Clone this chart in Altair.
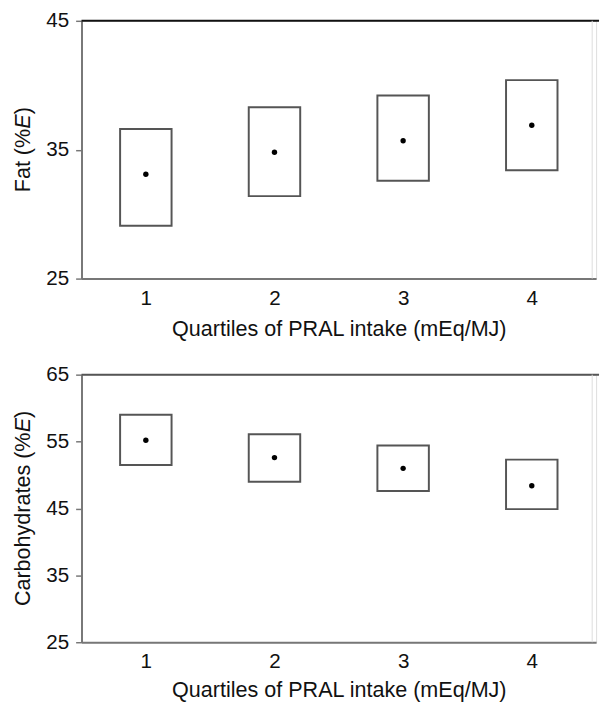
import altair as alt
import pandas as pd

quartiles = [1, 2, 3, 4]
fat_low = [29.1, 31.4, 32.6, 33.4]
fat_high = [36.6, 38.3, 39.2, 40.4]
fat_mean = [33.1, 34.8, 35.7, 36.9]
carb_low = [51.5, 49.0, 47.6, 44.9]
carb_high = [59.0, 56.1, 54.4, 52.3]
carb_mean = [55.2, 52.6, 51.0, 48.4]
fat_ticks = [25, 35, 45]
carb_ticks = [25, 35, 45, 55, 65]
x_ticks = [1, 2, 3, 4]
x_title = "Quartiles of PRAL intake (mEq/MJ)"

W = 525
FONT = "Liberation Sans"
LABEL_SIZE = 21
TITLE_SIZE = 22
AXIS_COLOR = "#777777"


def panel(low, high, mean, ydom, yticks, H, title_head, top_color, title_pad):
    df = pd.DataFrame({"q": quartiles, "lo": low, "hi": high, "m": mean})
    xscale = alt.Scale(domain=[0.5, 4.5], nice=False, zero=False)
    yscale = alt.Scale(domain=ydom, nice=False, zero=False)
    xaxis = alt.Axis(values=x_ticks, ticks=False, labelPadding=9, titlePadding=title_pad,
                     grid=False, domainColor=AXIS_COLOR, domainWidth=2,
                     labelFont=FONT, labelFontSize=LABEL_SIZE, labelColor="#111",
                     titleFont=FONT, titleFontSize=TITLE_SIZE, titleFontWeight="normal",
                     titleColor="#111", format="d")
    yaxis = alt.Axis(values=yticks, tickSize=6, tickColor=AXIS_COLOR, tickWidth=1.5,
                     labelPadding=7, grid=False, domainColor=AXIS_COLOR, domainWidth=2,
                     labelFont=FONT, labelFontSize=LABEL_SIZE, labelColor="#111",
                     title=None, format="d")

    base = alt.Chart(df).transform_calculate(x0="datum.q - 0.2", x1="datum.q + 0.2")
    boxes = base.mark_rect(fill="white", stroke="#555555", strokeWidth=2).encode(
        x=alt.X("x0:Q", scale=xscale, axis=xaxis, title=x_title),
        x2="x1:Q",
        y=alt.Y("lo:Q", scale=yscale, axis=yaxis),
        y2="hi:Q",
    )
    pts = alt.Chart(df).mark_point(filled=True, color="black", size=30, opacity=1).encode(
        x=alt.X("q:Q", scale=xscale, axis=xaxis, title=x_title),
        y=alt.Y("m:Q", scale=yscale, axis=yaxis),
    )
    one = pd.DataFrame({"a": [0]})
    top = alt.Chart(one).mark_rule(color=top_color, strokeWidth=2).encode(
        x=alt.value(0), x2=alt.value(W + 3), y=alt.value(0))
    right = alt.Chart(one).mark_rule(color="#dddddd", strokeWidth=1).encode(
        x=alt.value(W - 4), y=alt.value(0), y2=alt.value(H))

    # rotated y title with italic E
    char_w = {"F": 611, "a": 556, "t": 278, " ": 278, "(": 333, "%": 889, "C": 722,
              "r": 333, "b": 556, "o": 556, "h": 556, "y": 500, "d": 556, "e": 556, "s": 500}
    head_w = sum(char_w[c] for c in title_head) / 1000 * TITLE_SIZE
    e_w = 0.667 * TITLE_SIZE
    close_w = 0.333 * TITLE_SIZE
    total = head_w + e_w + close_w
    y0 = H / 2 + total / 2
    tx = -60
    parts = [(title_head, y0, "normal"), ("E", y0 - head_w, "italic"), (")", y0 - head_w - e_w, "normal")]
    texts = []
    for txt, yy, style in parts:
        texts.append(alt.Chart(pd.DataFrame({"t": [txt]})).mark_text(
            angle=270, align="left", baseline="middle", font=FONT, fontSize=TITLE_SIZE,
            fontStyle=style, color="#111").encode(
            text="t:N", x=alt.value(tx), y=alt.value(yy)))

    return alt.layer(boxes, pts, top, right, *texts).properties(width=W, height=H)


p1 = panel(fat_low, fat_high, fat_mean, [25, 45], fat_ticks, 263, "Fat (%", "#111111", 11)
p2 = panel(carb_low, carb_high, carb_mean, [25, 65], carb_ticks, 273, "Carbohydrates (%", "#555555", 8)

chart = alt.vconcat(p1, p2, spacing=23).properties(
    padding={"left": 3, "top": -6, "right": 0, "bottom": 0}
).configure_view(stroke=None).configure(background="white")

chart.save("out.html", embed_options={"renderer": "svg", "actions": False})
